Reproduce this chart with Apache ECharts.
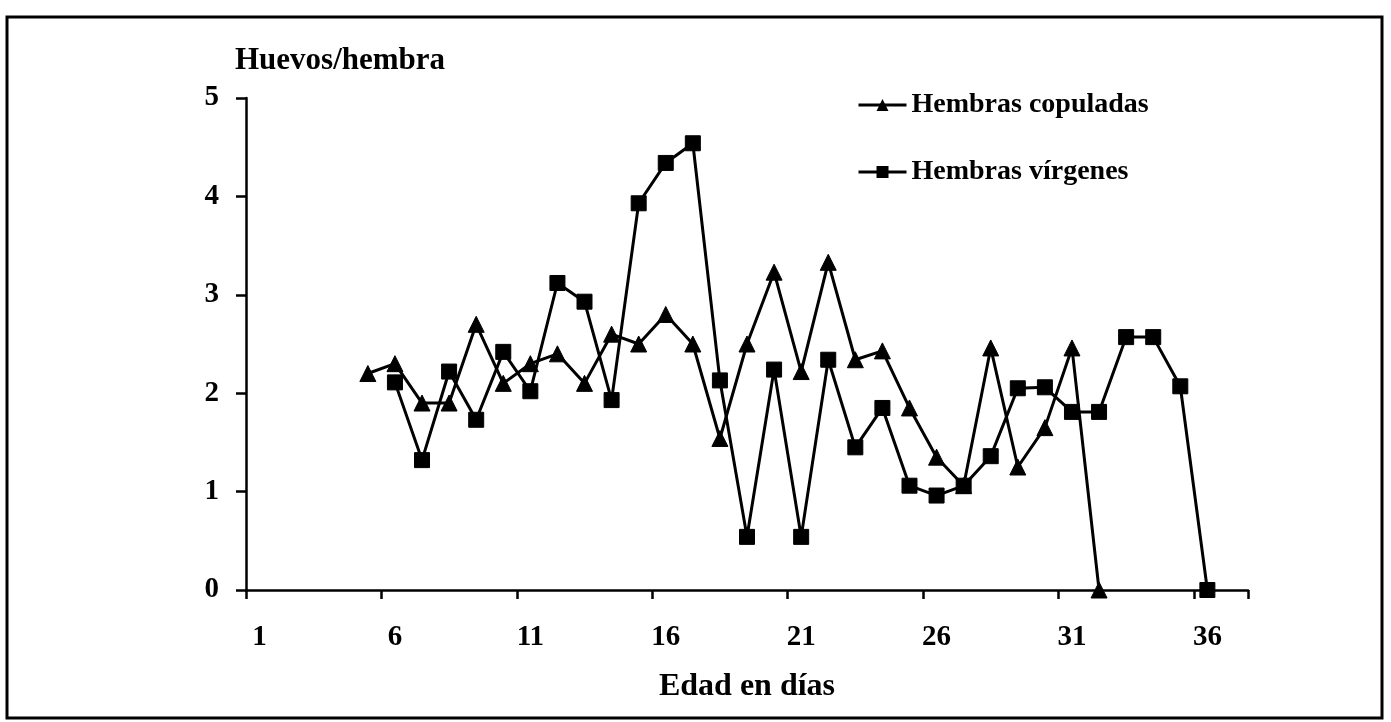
<!DOCTYPE html>
<html>
<head>
<meta charset="utf-8">
<script src="https://cdn.jsdelivr.net/npm/echarts@6/dist/echarts.min.js"></script>
<style>
html,body{margin:0;padding:0;background:#fff;}
#chart{width:1391px;height:722px;}
</style>
</head>
<body>
<div id="chart"></div>
<script>
// Days (categories)
var days = [];
for (var d = 1; d <= 37; d++) days.push(String(d));
// Hembras copuladas (days 1..37)
var copuladas = [null,null,null,null,2.2,2.3,1.9,1.9,2.7,2.1,2.3,2.4,2.1,2.6,2.5,2.8,2.5,1.54,2.5,3.23,2.22,3.33,2.34,2.43,1.85,1.35,1.06,2.46,1.25,1.65,2.46,0,null,null,null,null,null];
// Hembras vírgenes (days 1..37)
var virgenes = [null,null,null,null,null,2.11,1.32,2.22,1.73,2.42,2.02,3.12,2.93,1.93,3.93,4.34,4.54,2.13,0.54,2.24,0.54,2.34,1.45,1.85,1.06,0.96,1.06,1.36,2.05,2.06,1.81,1.81,2.57,2.57,2.07,0,null];
var yTicks = [0,1,2,3,4,5];

var FONT = 'Liberation Serif';
var chart = echarts.init(document.getElementById('chart'));
chart.setOption({
  backgroundColor: '#fff',
  animation: false,
  title: {
    text: 'Huevos/hembra',
    left: 230, top: 40,
    textStyle: {fontFamily: FONT, fontWeight: 'bold', fontSize: 31, color: '#000'}
  },
  legend: {
    orient: 'vertical',
    left: 852, top: 86,
    itemWidth: 48, itemHeight: 15, itemGap: 39,
    lineStyle: {width: 3, color: '#000'},
    textStyle: {fontFamily: FONT, fontWeight: 'bold', fontSize: 28, color: '#000'},
    data: ['Hembras copuladas', 'Hembras vírgenes']
  },
  grid: {left: 246, right: 143, top: 98, bottom: 132},
  xAxis: {
    type: 'category',
    data: days,
    boundaryGap: true,
    name: 'Edad en días',
    nameLocation: 'middle',
    nameGap: 81,
    nameTextStyle: {fontFamily: FONT, fontWeight: 'bold', fontSize: 32, color: '#000'},
    axisLine: {show: true, lineStyle: {color: '#000', width: 2.5}},
    axisTick: {show: true, interval: 4, length: 9, lineStyle: {color: '#000', width: 2.5}},
    axisLabel: {interval: 4, margin: 33, fontFamily: FONT, fontWeight: 'bold', fontSize: 29, color: '#000'},
    splitLine: {show: false}
  },
  yAxis: {
    type: 'value',
    min: 0, max: 5, interval: 1,
    axisLine: {show: true, lineStyle: {color: '#000', width: 2.5}},
    axisTick: {show: true, length: 10, lineStyle: {color: '#000', width: 2.5}},
    axisLabel: {margin: 27, fontFamily: FONT, fontWeight: 'bold', fontSize: 29, color: '#000',
      formatter: function(v){ return yTicks.indexOf(v) >= 0 ? String(v) : ''; }},
    splitLine: {show: false}
  },
  series: [
    {
      name: 'Hembras copuladas', type: 'line', data: copuladas,
      symbol: 'triangle', symbolSize: 16, showAllSymbol: true,
      lineStyle: {color: '#000', width: 3},
      itemStyle: {color: '#000', borderColor: '#000'}
    },
    {
      name: 'Hembras vírgenes', type: 'line', data: virgenes,
      symbol: 'rect', symbolSize: 15, showAllSymbol: true,
      lineStyle: {color: '#000', width: 3},
      itemStyle: {color: '#000', borderColor: '#000'}
    }
  ],
  graphic: [{
    type: 'rect', silent: true,
    shape: {x: 7, y: 17, width: 1375, height: 701},
    style: {fill: 'none', stroke: '#000', lineWidth: 3}
  }]
});
</script>
</body>
</html>
